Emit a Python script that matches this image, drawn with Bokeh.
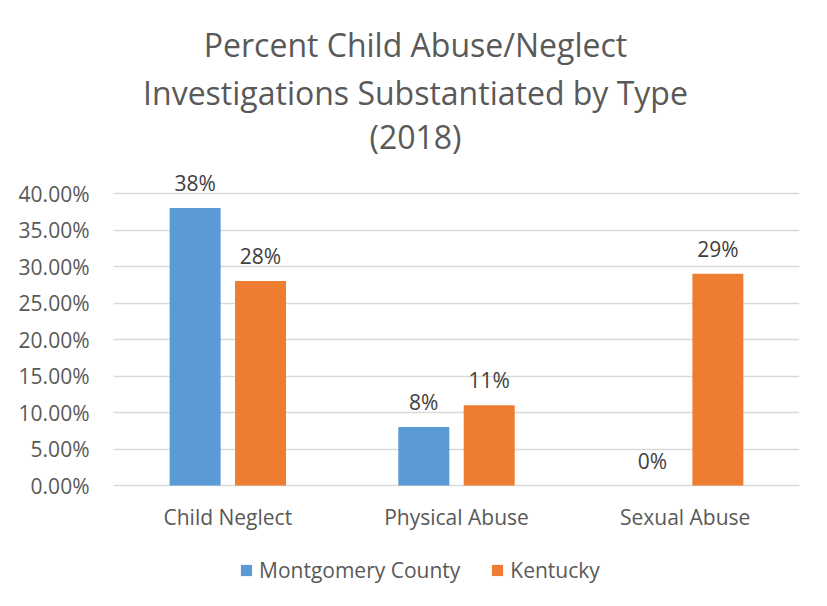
from bokeh.plotting import figure
from bokeh.models import (ColumnDataSource, Label, Legend, LegendItem,
                          FixedTicker, NumeralTickFormatter, Range1d, FactorRange)
from bokeh.core.properties import value
from bokeh.transform import dodge
from bokeh.embed import file_html
from bokeh.resources import INLINE

# ---- data ----
categories = ["Child Neglect", "Physical Abuse", "Sexual Abuse"]
series_names = ["Montgomery County", "Kentucky"]
montgomery = [0.38, 0.08, 0.00]
kentucky = [0.28, 0.11, 0.29]
montgomery_labels = ["38%", "8%", "0%"]
kentucky_labels = ["28%", "11%", "29%"]
y_ticks = [0.0, 0.05, 0.10, 0.15, 0.20, 0.25, 0.30, 0.35, 0.40]
title_lines = ["Percent Child Abuse/Neglect",
               "Investigations Substantiated by Type",
               "(2018)"]

# ---- style / layout ----
FONT = "Open Sans"
BLUE = "#5B9BD5"
ORANGE = "#ED7D31"
TEXT = "#595959"
DLABEL = "#404040"
GRID = "#D9D9D9"

W, H = 819, 598
PLOT_L, PLOT_R = 113, 799          # horizontal extent of the plot area (px)
ZERO_PX, TOP_PX = 485, 193         # pixel rows of 0% and 40%
Y_MAX = 0.40
px_per_unit = (ZERO_PX - TOP_PX) / Y_MAX
y_start = -(H - ZERO_PX) / px_per_unit
y_end = Y_MAX + TOP_PX / px_per_unit

src = ColumnDataSource(dict(cat=categories, m=montgomery, k=kentucky,
                            ml=montgomery_labels, kl=kentucky_labels))

p = figure(x_range=FactorRange(*categories), y_range=Range1d(y_start, y_end),
           width=W, height=H, output_backend="svg", toolbar_location=None,
           x_axis_location=None,
           min_border_left=PLOT_L, min_border_right=W - PLOT_R,
           min_border_top=0, min_border_bottom=0)
p.outline_line_color = None
p.background_fill_color = "white"
p.border_fill_color = "white"

BW = 0.223
OFF = 0.143
r1 = p.vbar(x=dodge("cat", -OFF, range=p.x_range), top="m", width=BW, source=src,
            fill_color=BLUE, line_color=None)
r2 = p.vbar(x=dodge("cat", OFF, range=p.x_range), top="k", width=BW, source=src,
            fill_color=ORANGE, line_color=None)

# data labels
for col, lab, off in (("m", "ml", -OFF), ("k", "kl", OFF)):
    p.text(x=dodge("cat", off, range=p.x_range), y=col, text=lab, source=src,
           y_offset=-25, text_align="center", text_baseline="alphabetic",
           text_font=value(FONT), text_font_size="21px", text_color=DLABEL)

# category labels under the 0% line
p.text(x="cat", y=0, text="cat", source=src, y_offset=31,
       text_align="center", text_baseline="alphabetic",
       text_font=value(FONT), text_font_size="21px", text_color=TEXT)

# y axis
p.yaxis.ticker = FixedTicker(ticks=y_ticks)
p.yaxis.formatter = NumeralTickFormatter(format="0.00%")
p.yaxis.axis_line_color = None
p.yaxis.major_tick_line_color = None
p.yaxis.minor_tick_line_color = None
p.yaxis.major_tick_out = 0
p.yaxis.major_label_standoff = 24
p.yaxis.major_label_text_font = FONT
p.yaxis.major_label_text_font_size = "21px"
p.yaxis.major_label_text_color = TEXT

p.xgrid.grid_line_color = None
p.ygrid.ticker = FixedTicker(ticks=y_ticks)
p.ygrid.grid_line_color = GRID
p.ygrid.grid_line_width = 1.3

# title lines
px_per_cat = (PLOT_R - PLOT_L) / len(categories)
title_center_x = (415 - PLOT_L) / px_per_cat
title_rows = [43.5, 91.5, 136]  # pixel rows of the text anchors
for txt, b in zip(title_lines, title_rows):
    yy = Y_MAX + (TOP_PX - b) / px_per_unit
    p.add_layout(Label(x=title_center_x, y=yy, text=txt, text_align="center",
                       text_baseline="alphabetic", text_font=FONT,
                       text_font_size="32px", text_color=TEXT))

legend = Legend(items=[LegendItem(label=series_names[0], renderers=[r1]),
                       LegendItem(label=series_names[1], renderers=[r2])],
                orientation="horizontal", location=(239 - PLOT_L, H - 584),
                glyph_width=14, glyph_height=14, label_standoff=6, spacing=30,
                padding=0, margin=0, border_line_color=None,
                background_fill_alpha=0, label_text_font=FONT,
                label_text_font_size="21px", label_text_color=TEXT,
                label_height=14)
p.add_layout(legend, "center")

open("out.html", "w").write(file_html(p, INLINE))
